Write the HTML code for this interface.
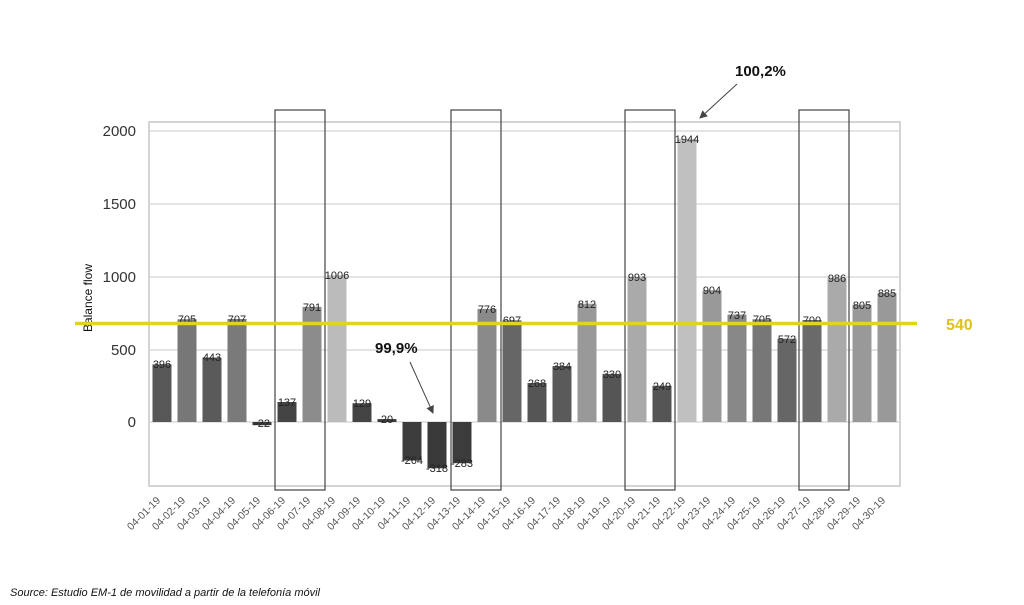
<!DOCTYPE html>
<html><head><meta charset="utf-8"><style>
html,body{margin:0;padding:0;background:#fff;}
svg{display:block;font-family:"Liberation Sans",sans-serif;}
.v{font-size:11px;fill:#222;text-anchor:middle;}
.x{font-size:10.5px;fill:#555;text-anchor:end;}
.t{font-size:15px;fill:#333;text-anchor:end;}
</style></head><body>
<svg width="1024" height="605" viewBox="0 0 1024 605">
<g stroke="#dcdcdc" stroke-width="1.5">
<line x1="149" y1="131" x2="900" y2="131"/>
<line x1="149" y1="204" x2="900" y2="204"/>
<line x1="149" y1="277" x2="900" y2="277"/>
<line x1="149" y1="350" x2="900" y2="350"/>
<line x1="149" y1="422" x2="900" y2="422"/>
</g>
<rect x="149" y="122" width="751" height="364" fill="none" stroke="#d4d4d4" stroke-width="2"/>
<text class="t" x="136" y="136">2000</text>
<text class="t" x="136" y="209">1500</text>
<text class="t" x="136" y="282">1000</text>
<text class="t" x="136" y="355">500</text>
<text class="t" x="136" y="427">0</text>
<text x="92" y="298" transform="rotate(-90 92 298)" font-size="12" fill="#111" text-anchor="middle">Balance flow</text>
<g>
<rect x="152.5" y="364.3" width="19" height="57.7" fill="#575757"/>
<rect x="177.5" y="319.3" width="19" height="102.7" fill="#777"/>
<rect x="202.5" y="357.5" width="19" height="64.5" fill="#5a5a5a"/>
<rect x="227.5" y="319" width="19" height="103" fill="#7a7a7a"/>
<rect x="252.5" y="422" width="19" height="3.2" fill="#3a3a3a"/>
<rect x="277.5" y="402" width="19" height="20" fill="#444"/>
<rect x="302.5" y="306.8" width="19" height="115.2" fill="#8c8c8c"/>
<rect x="327.5" y="275.4" width="19" height="146.6" fill="#bbb"/>
<rect x="352.5" y="403.2" width="19" height="18.8" fill="#444"/>
<rect x="377.5" y="419.1" width="19" height="2.9" fill="#3a3a3a"/>
<rect x="402.5" y="422" width="19" height="38.5" fill="#3c3c3c"/>
<rect x="427.5" y="422" width="19" height="46.3" fill="#3a3a3a"/>
<rect x="452.5" y="422" width="19" height="41.2" fill="#3c3c3c"/>
<rect x="477.5" y="308.9" width="19" height="113.1" fill="#8a8a8a"/>
<rect x="502.5" y="320.4" width="19" height="101.6" fill="#666"/>
<rect x="527.5" y="383" width="19" height="39" fill="#555"/>
<rect x="552.5" y="366" width="19" height="56" fill="#5a5a5a"/>
<rect x="577.5" y="303.7" width="19" height="118.3" fill="#999"/>
<rect x="602.5" y="373.9" width="19" height="48.1" fill="#555"/>
<rect x="627.5" y="277.3" width="19" height="144.7" fill="#aaa"/>
<rect x="652.5" y="385.7" width="19" height="36.3" fill="#555"/>
<rect x="677.5" y="138.8" width="19" height="283.2" fill="#c0c0c0"/>
<rect x="702.5" y="290.3" width="19" height="131.7" fill="#999"/>
<rect x="727.5" y="314.6" width="19" height="107.4" fill="#888"/>
<rect x="752.5" y="319.3" width="19" height="102.7" fill="#777"/>
<rect x="777.5" y="338.7" width="19" height="83.3" fill="#666"/>
<rect x="802.5" y="320" width="19" height="102" fill="#6a6a6a"/>
<rect x="827.5" y="278.3" width="19" height="143.7" fill="#aaa"/>
<rect x="852.5" y="304.7" width="19" height="117.3" fill="#999"/>
<rect x="877.5" y="293.1" width="19" height="128.9" fill="#999"/>
</g>
<g>
<text class="v" x="162" y="368">396</text>
<text class="v" x="187" y="323">705</text>
<text class="v" x="212" y="361">443</text>
<text class="v" x="237" y="323">707</text>
<text class="v" x="262" y="427">-22</text>
<text class="v" x="287" y="406">137</text>
<text class="v" x="312" y="311">791</text>
<text class="v" x="337" y="279">1006</text>
<text class="v" x="362" y="407">129</text>
<text class="v" x="387" y="423">20</text>
<text class="v" x="412" y="464">-264</text>
<text class="v" x="437" y="472">-318</text>
<text class="v" x="462" y="467">-283</text>
<text class="v" x="487" y="313">776</text>
<text class="v" x="512" y="324">697</text>
<text class="v" x="537" y="387">268</text>
<text class="v" x="562" y="370">384</text>
<text class="v" x="587" y="308">812</text>
<text class="v" x="612" y="378">330</text>
<text class="v" x="637" y="281">993</text>
<text class="v" x="662" y="390">249</text>
<text class="v" x="687" y="143">1944</text>
<text class="v" x="712" y="294">904</text>
<text class="v" x="737" y="319">737</text>
<text class="v" x="762" y="323">705</text>
<text class="v" x="787" y="343">572</text>
<text class="v" x="812" y="324">700</text>
<text class="v" x="837" y="282">986</text>
<text class="v" x="862" y="309">805</text>
<text class="v" x="887" y="297">885</text>
</g>
<g>
<text class="x" transform="translate(161,501) rotate(-45)">04-01-19</text>
<text class="x" transform="translate(186,501) rotate(-45)">04-02-19</text>
<text class="x" transform="translate(211,501) rotate(-45)">04-03-19</text>
<text class="x" transform="translate(236,501) rotate(-45)">04-04-19</text>
<text class="x" transform="translate(261,501) rotate(-45)">04-05-19</text>
<text class="x" transform="translate(286,501) rotate(-45)">04-06-19</text>
<text class="x" transform="translate(311,501) rotate(-45)">04-07-19</text>
<text class="x" transform="translate(336,501) rotate(-45)">04-08-19</text>
<text class="x" transform="translate(361,501) rotate(-45)">04-09-19</text>
<text class="x" transform="translate(386,501) rotate(-45)">04-10-19</text>
<text class="x" transform="translate(411,501) rotate(-45)">04-11-19</text>
<text class="x" transform="translate(436,501) rotate(-45)">04-12-19</text>
<text class="x" transform="translate(461,501) rotate(-45)">04-13-19</text>
<text class="x" transform="translate(486,501) rotate(-45)">04-14-19</text>
<text class="x" transform="translate(511,501) rotate(-45)">04-15-19</text>
<text class="x" transform="translate(536,501) rotate(-45)">04-16-19</text>
<text class="x" transform="translate(561,501) rotate(-45)">04-17-19</text>
<text class="x" transform="translate(586,501) rotate(-45)">04-18-19</text>
<text class="x" transform="translate(611,501) rotate(-45)">04-19-19</text>
<text class="x" transform="translate(636,501) rotate(-45)">04-20-19</text>
<text class="x" transform="translate(661,501) rotate(-45)">04-21-19</text>
<text class="x" transform="translate(686,501) rotate(-45)">04-22-19</text>
<text class="x" transform="translate(711,501) rotate(-45)">04-23-19</text>
<text class="x" transform="translate(736,501) rotate(-45)">04-24-19</text>
<text class="x" transform="translate(761,501) rotate(-45)">04-25-19</text>
<text class="x" transform="translate(786,501) rotate(-45)">04-26-19</text>
<text class="x" transform="translate(811,501) rotate(-45)">04-27-19</text>
<text class="x" transform="translate(836,501) rotate(-45)">04-28-19</text>
<text class="x" transform="translate(861,501) rotate(-45)">04-29-19</text>
<text class="x" transform="translate(886,501) rotate(-45)">04-30-19</text>
</g>
<g fill="none" stroke="#444" stroke-width="1.2">
<rect x="275" y="110" width="50" height="380"/>
<rect x="451" y="110" width="50" height="380"/>
<rect x="625" y="110" width="50" height="380"/>
<rect x="799" y="110" width="50" height="380"/>
</g>
<line x1="75" y1="323.5" x2="917" y2="323.5" stroke="#e2d41c" stroke-width="3.5"/>
<text x="946" y="330" font-size="16" font-weight="bold" fill="#e0c020">540</text>
<defs><marker id="ah" markerWidth="8" markerHeight="8" refX="7" refY="4" orient="auto"><path d="M0,0 L8,4 L0,8 Z" fill="#444"/></marker></defs>
<text x="375" y="353" font-size="15" font-weight="bold" fill="#111">99,9%</text>
<line x1="410" y1="362" x2="433" y2="413" stroke="#444" stroke-width="1" marker-end="url(#ah)"/>
<text x="735" y="76" font-size="15" font-weight="bold" fill="#111">100,2%</text>
<line x1="737" y1="84" x2="700" y2="118" stroke="#444" stroke-width="1" marker-end="url(#ah)"/>
<text x="10" y="596" font-size="11" font-style="italic" fill="#111">Source: Estudio EM-1 de movilidad a partir de la telefonía móvil</text>
</svg>
</body></html>
